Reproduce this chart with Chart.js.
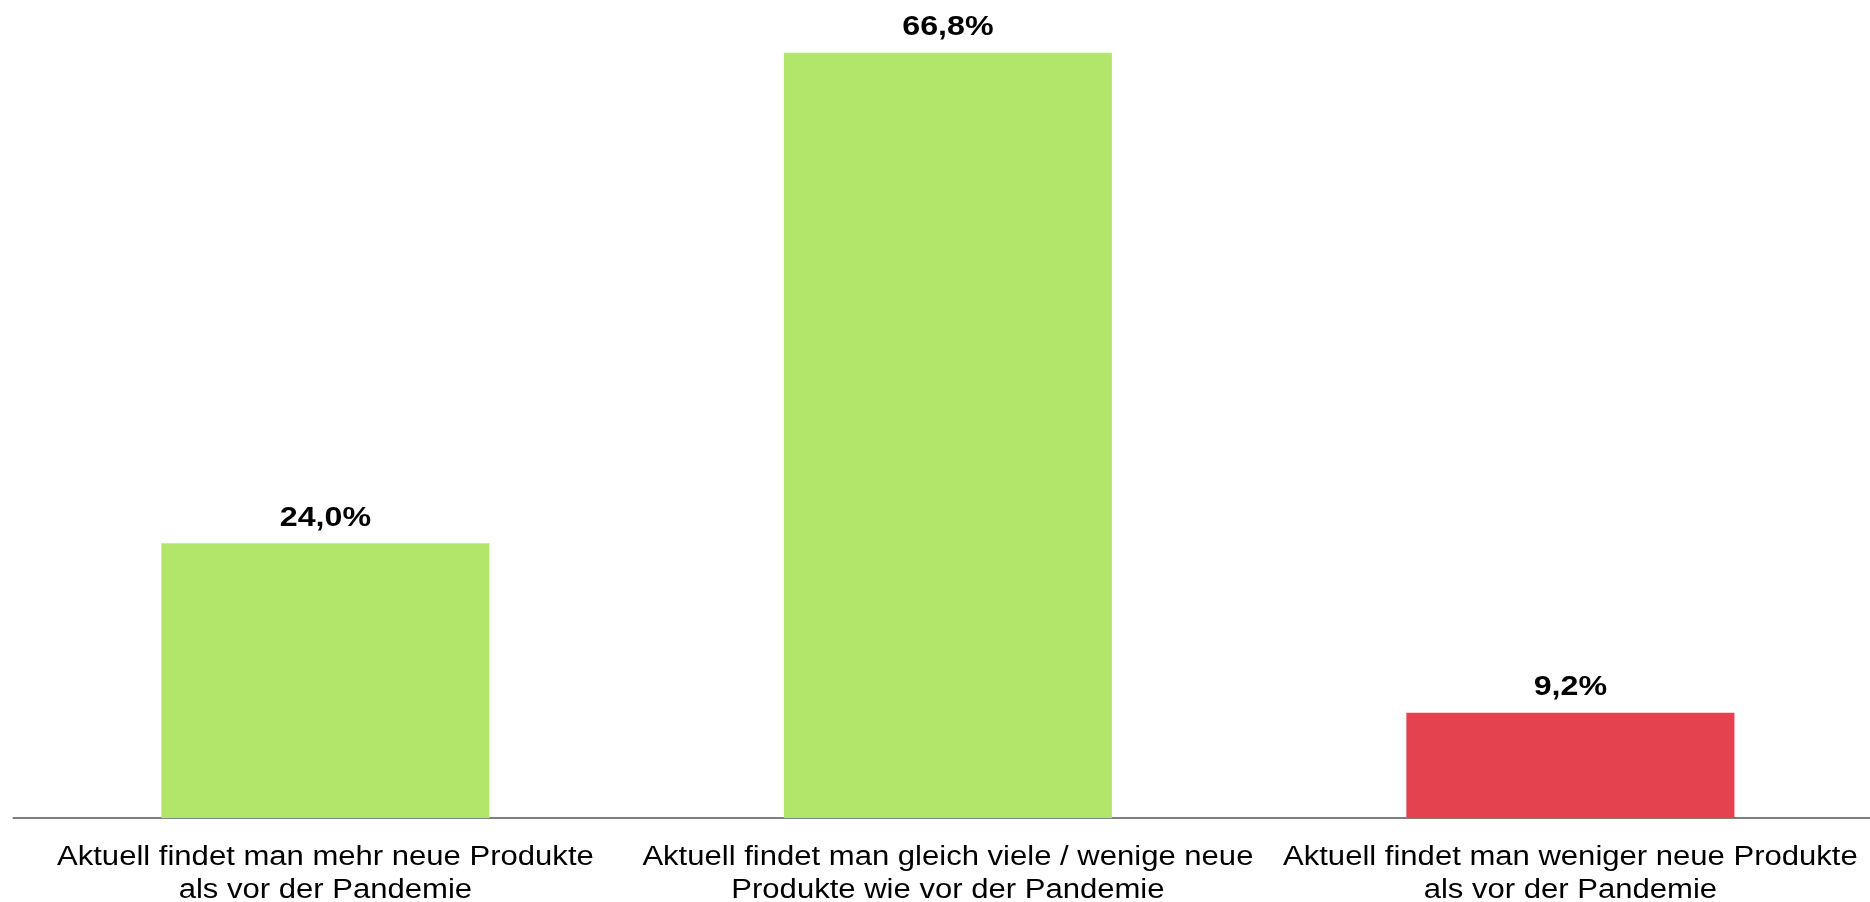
<!DOCTYPE html>
<html>
<head>
<meta charset="utf-8">
<script src="https://cdn.jsdelivr.net/npm/chart.js@4"></script>
<style>
html,body{margin:0;padding:0;background:#fff;overflow:hidden;width:1870px;height:902px}
#wrap{position:absolute;left:0;top:0;width:1882px;height:930px}
canvas{display:block}
</style>
</head>
<body>
<div id="wrap"><canvas id="c" width="1882" height="930"></canvas></div>
<script>
const categories = [
  ["Aktuell findet man mehr neue Produkte", "als vor der Pandemie"],
  ["Aktuell findet man gleich viele / wenige neue", "Produkte wie vor der Pandemie"],
  ["Aktuell findet man weniger neue Produkte", "als vor der Pandemie"]
];
const shares = [24.0, 66.8, 9.2];
const barColors = ["#B2E66A", "#B2E66A", "#E5424F"];

const FONT = '"Liberation Sans", Arial, Helvetica, sans-serif';
const STRETCH = 1.15;   // the reference is drawn horizontally widened

function fmt(v) { return v.toFixed(1).replace('.', ',') + '%'; }

const stretchPlugin = {
  id: 'stretch',
  beforeDraw(chart) { chart.ctx.save(); chart.ctx.setTransform(STRETCH, 0, 0, 1, 0, 0); },
  afterDraw(chart) { chart.ctx.restore(); }
};

const valueLabels = {
  id: 'valueLabels',
  afterDatasetsDraw(chart) {
    const ctx = chart.ctx;
    const meta = chart.getDatasetMeta(0);
    ctx.save();
    ctx.font = 'bold 28px ' + FONT;
    ctx.fillStyle = '#000';
    ctx.textAlign = 'center';
    ctx.textBaseline = 'alphabetic';
    meta.data.forEach((bar, i) => {
      ctx.fillText(fmt(shares[i]), bar.x, bar.y - 17.5);
    });
    ctx.restore();
  }
};

new Chart(document.getElementById('c'), {
  type: 'bar',
  data: {
    labels: categories,
    datasets: [{
      data: shares,
      backgroundColor: barColors,
      borderWidth: 0,
      categoryPercentage: 1,
      barPercentage: 0.527
    }]
  },
  options: {
    responsive: false,
    devicePixelRatio: 1,
    animation: false,
    layout: { padding: { left: 12.3, right: 245.8, top: 16, bottom: 0 } },
    plugins: { legend: { display: false }, tooltip: { enabled: false } },
    scales: {
      x: {
        grid: { display: false, drawTicks: false },
        border: { display: true, color: '#808080', width: 2 },
        ticks: {
          autoSkip: false, maxRotation: 0, minRotation: 0,
          color: '#000',
          padding: 23.2,
          font: { family: FONT, size: 27, lineHeight: '32.7px' }
        }
      },
      y: { display: false, min: 0, max: 70 }
    }
  },
  plugins: [stretchPlugin, valueLabels]
});
</script>
</body>
</html>
